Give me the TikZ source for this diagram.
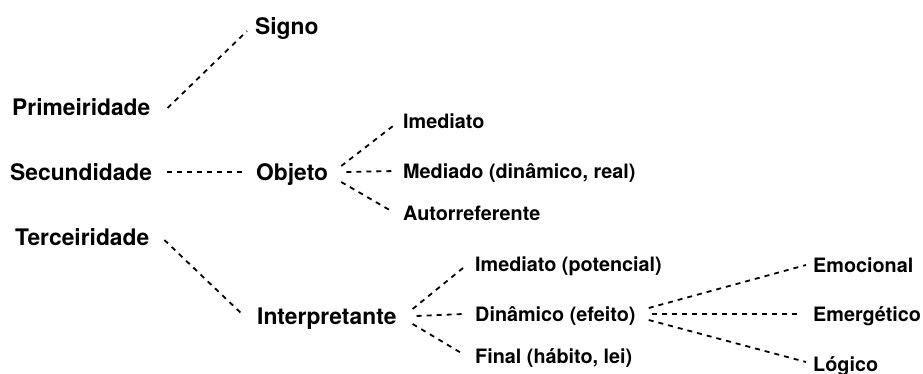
\documentclass[tikz,border=0pt]{standalone}
\usepackage{fontspec}
\setmainfont{TeX Gyre Heros}
\begin{document}
\begin{tikzpicture}[x=1pt,y=-1pt,
  big/.style={font=\fontsize{22.8}{26}\selectfont\bfseries, inner sep=0pt, text height=16.3pt, text depth=0pt, anchor=west},
  small/.style={font=\fontsize{19.8}{23}\selectfont\bfseries, inner sep=0pt, text height=14.2pt, text depth=0pt, anchor=west},
  conn/.style={line width=1.8pt, dash pattern=on 5pt off 5pt}]
\path[use as bounding box] (0,0) rectangle (923,374);
% left column
\node[big] (prim) at (12,107) {Primeiridade};
\node[big] (sec)  at (10,172) {Secundidade};
\node[big] (ter)  at (15,237) {Terceiridade};
% middle
\node[big] (signo) at (255,26) {Signo};
\node[big] (obj)   at (256,172) {Objeto};
\node[big] (int)   at (257,316) {Interpretante};
% objeto branches
\node[small] (oim)  at (403,121) {Imediato};
\node[small] (omed) at (403,171) {Mediado (dinâmico, real)};
\node[small] (oaut) at (403,213) {Autorreferente};
% interpretante branches
\node[small] (iim)  at (475,264) {Imediato (potencial)};
\node[small] (idin) at (475,314) {Dinâmico (efeito)};
\node[small] (ifin) at (475,356) {Final (hábito, lei)};
% dinamico branches
\node[small] (demo) at (813,265) {Emocional};
\node[small] (demg) at (813,314) {Emergético};
\node[small] (dlog) at (813,364) {Lógico};
% connectors
\draw[conn] ([xshift=17pt,yshift=-1pt]prim.east) -- ([xshift=-8pt,yshift=-5pt]signo.west);
\draw[conn] ([xshift=15pt]sec.east) -- ([xshift=-9pt]obj.west);
\draw[conn] ([xshift=15pt,yshift=-3pt]ter.east) -- ([xshift=-14pt,yshift=1pt]int.west);
\draw[conn] ([xshift=13pt,yshift=6pt]obj.east) -- ([xshift=-10pt,yshift=-5pt]oim.west);
\draw[conn] ([xshift=18pt]obj.east) -- ([xshift=-7pt]omed.west);
\draw[conn] ([xshift=13pt,yshift=-10pt]obj.east) -- ([xshift=-10pt,yshift=1pt]oaut.west);
\draw[conn] ([xshift=16pt,yshift=7pt]int.east) -- ([xshift=-12pt,yshift=-4pt]iim.west);
\draw[conn] ([xshift=20pt]int.east) -- ([xshift=-12pt]idin.west);
\draw[conn] ([xshift=16pt,yshift=-8pt]int.east) -- ([xshift=-12pt,yshift=2pt]ifin.west);
\draw[conn] ([xshift=13pt,yshift=6pt]idin.east) -- ([xshift=-7pt]demo.west);
\draw[conn] ([xshift=16pt]idin.east) -- ([xshift=-13pt]demg.west);
\draw[conn] ([xshift=13pt,yshift=-6pt]idin.east) -- ([xshift=-7pt,yshift=2pt]dlog.west);
\end{tikzpicture}
\end{document}
